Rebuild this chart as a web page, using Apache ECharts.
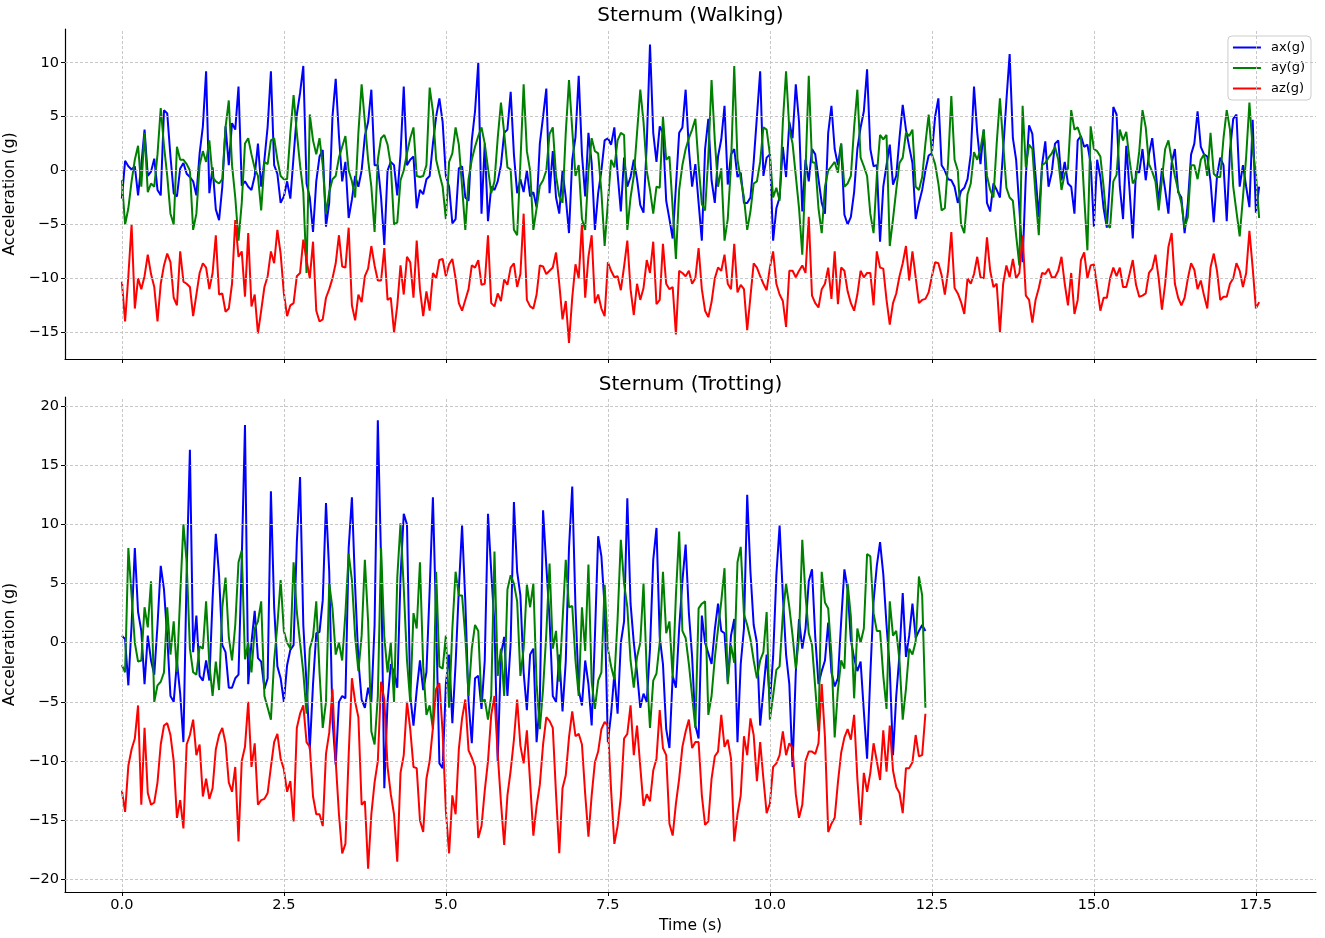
<!DOCTYPE html>
<html><head><meta charset="utf-8">
<script src="https://cdn.jsdelivr.net/npm/echarts@6/dist/echarts.min.js"></script>
<style>html,body{margin:0;padding:0;background:#fff}#c{width:1325px;height:938px}</style>
</head><body><div id="c"></div>
<script>
const dt = 0.05;
const seriesNames = ['ax(g)', 'ay(g)', 'az(g)'];
const colors = ['#0000ff', '#008000', '#ff0000'];
const xTicks = [0, 2.5, 5, 7.5, 10, 12.5, 15, 17.5];
const yTicksWalk = [-15, -10, -5, 0, 5, 10];
const yTicksTrot = [-20, -15, -10, -5, 0, 5, 10, 15, 20];

const walkAx = [
-2.6,0.9,0.4,0.1,0.4,-2.3,0.5,3.8,-0.5,-0.1,
1.1,-1.8,-2.3,5.6,5.3,1.3,-2.1,-2.4,0.2,0.7,
-0.3,-0.6,-1.0,-2.3,1.6,4.1,9.2,-2.1,0.3,-3.6,
-4.6,-1.5,4.1,0.5,4.4,3.8,7.8,-1.4,-1.0,-1.5,
-1.8,-0.5,2.5,-1.5,1.0,4.1,9.2,0.5,-0.3,-3.0,
-2.4,-1.0,-2.6,1.3,5.2,7.2,9.7,-1.2,-2.5,-5.7,
-1.0,1.3,1.9,-5.2,-3.0,5.0,8.5,3.2,-1.0,0.8,
-4.4,-2.7,-0.5,-1.5,0.0,3.2,4.5,7.5,0.5,0.5,
-2.5,-6.9,0.0,0.8,0.5,-2.3,1.5,7.8,0.5,1.0,
1.3,-3.5,-1.8,-2.2,-0.8,-0.5,2.5,5.0,6.7,4.5,
-0.5,-1.5,-4.9,-4.5,0.2,0.4,-2.5,-2.8,2.8,5.5,
10.0,-4.0,2.5,-4.7,-1.5,-1.8,-1.0,0.5,3.5,3.8,
7.3,1.5,-2.1,-0.8,-2.0,0.0,-2.4,-2.0,-3.4,2.5,
5.0,7.6,-2.1,1.8,-2.5,-4.0,0.0,-2.5,-5.8,1.0,
3.1,8.8,1.5,-2.4,3.5,0.7,-5.5,-2.1,0.0,2.8,
3.0,2.4,4.0,-0.3,-3.8,1.2,-1.5,-0.6,1.0,-0.8,
-3.2,-3.9,2.5,11.7,3.5,0.8,4.1,3.5,-2.8,-4.5,
-6.3,-1.5,3.5,4.0,7.5,2.0,-1.5,0.6,-3.0,-6.5,
2.0,4.8,-0.9,-3.0,1.3,2.9,6.0,-1.3,1.5,2.0,
-0.6,-0.2,-3.0,-3.0,-2.5,0.8,5.0,9.2,-0.5,1.2,
1.5,-6.5,-3.5,-2.5,2.2,-0.6,4.5,3.0,8.0,4.5,
-3.8,1.0,-1.0,2.0,1.5,-0.8,-3.0,-4.0,3.5,6.0,
2.0,0.5,2.5,-4.1,-5.0,-4.3,-2.0,2.0,4.0,5.5,
9.4,2.0,0.4,0.5,-6.6,-1.5,0.5,2.4,-1.3,-0.5,
3.0,6.1,3.8,2.2,0.7,-4.5,-3.0,-1.8,0.0,1.4,
1.6,5.0,6.7,0.5,0.0,-0.8,-0.9,-1.5,-3.0,-1.9,
-1.6,-0.8,1.5,7.8,3.5,0.6,3.8,-3.0,-3.8,-1.2,
-1.8,-2.5,1.9,6.5,10.8,3.0,1.0,-3.5,-8.5,-0.5,
4.2,3.4,-0.5,-4.3,0.5,2.7,-1.5,-0.2,2.5,2.8,
-0.9,0.8,-1.2,-1.5,-4.0,2.8,3.2,2.2,2.4,0.7,
-5.2,1.0,-0.6,-3.5,-5.3,-0.8,5.9,5.2,-1.5,-4.5,
2.3,-1.8,-6.3,0.0,-0.2,2.0,-0.9,1.5,3.0,0.2,
-3.0,0.2,-1.8,-4.0,0.7,2.0,-2.0,-2.5,-5.8,-3.0,
1.5,2.5,5.5,2.2,1.5,1.3,-1.0,-4.8,-0.5,1.2,
0.5,-4.7,1.8,4.8,5.2,-1.5,0.5,-1.5,-3.4,4.7,
-3.9,-1.5
];

const walkAy = [
-0.9,-5.0,-3.5,-1.0,1.0,2.3,-1.5,3.5,-2.0,-1.2,
-1.5,1.5,5.8,2.3,-0.5,-4.0,-5.0,2.2,1.0,1.0,
0.6,0.0,-5.5,-4.0,0.5,1.8,0.8,2.8,-0.6,-1.0,
-1.2,-0.8,4.0,6.5,0.5,-2.5,-6.5,-3.0,2.5,3.0,
1.5,0.2,-0.5,-3.7,0.8,0.6,2.8,3.0,1.0,-0.5,
-0.8,-0.8,3.5,7.0,3.5,0.5,-2.0,-9.5,5.2,2.8,
1.5,3.0,0.5,-4.0,-2.0,-0.8,-0.5,1.2,2.2,3.2,
0.0,-1.0,-2.5,3.5,8.0,4.5,1.0,-1.5,-5.7,1.0,
3.0,3.3,2.4,0.5,-5.0,-4.8,-0.9,0.0,1.6,3.0,
4.0,-0.5,-0.6,-0.5,0.5,7.7,5.5,1.0,-0.3,-1.5,
-4.5,0.8,1.6,4.0,2.4,-1.5,-5.5,-0.8,1.0,2.2,
3.2,4.0,2.5,0.2,-2.1,-1.0,3.0,6.3,3.5,0.3,
0.1,-5.5,-6.0,0.7,8.0,1.8,0.0,-5.5,-3.5,-1.4,
-0.9,0.0,3.4,4.0,-0.5,-2.4,-3.0,3.5,8.4,3.8,
-0.5,0.5,-4.5,-5.5,0.0,3.0,1.8,1.6,-2.0,-7.0,
-3.0,1.0,0.3,2.8,3.5,3.3,-5.5,-2.5,-0.5,3.5,
7.5,4.5,0.0,-1.8,-4.0,-1.5,-1.6,5.0,1.0,1.3,
-3.5,-8.2,-1.8,0.5,2.0,3.0,3.8,4.8,0.5,-3.1,
-3.7,1.3,8.4,2.8,-1.5,0.2,-6.5,-4.5,0.5,9.7,
1.0,-0.8,-2.5,-5.5,-3.8,-1.2,-1.0,0.8,4.0,3.8,
1.5,-2.5,-1.6,-2.8,4.5,9.2,3.8,2.5,-0.5,-3.5,
-7.8,0.0,8.8,0.8,0.7,-3.5,-5.8,-1.5,0.0,0.4,
0.8,-0.2,2.5,-1.5,-1.2,-0.5,4.0,7.5,1.2,0.4,
-0.5,-4.0,-5.8,-0.5,3.3,2.9,3.3,-7.0,-4.5,-1.8,
0.7,1.2,3.5,3.2,3.8,-1.5,-1.8,-0.6,2.5,5.2,
1.5,0.6,-1.2,-3.7,-3.5,0.7,6.9,1.0,0.0,-5.0,
-5.8,-2.2,-1.2,1.7,1.0,2.0,3.8,-0.5,-1.8,-2.5,
2.5,6.7,2.5,-1.6,-2.5,-2.8,-6.0,-8.8,6.0,0.3,
2.4,2.0,-2.3,-6.0,0.5,0.7,1.2,1.6,2.2,1.0,
-1.8,-0.3,0.2,5.6,3.8,4.0,3.1,-2.4,-7.4,4.1,
2.0,1.8,1.3,-1.5,-5.0,-5.3,-1.0,-0.4,3.8,2.8,
3.6,1.0,-1.2,-0.7,1.8,5.6,4.0,0.6,-0.1,-1.0,
-3.7,-0.8,2.0,2.8,1.0,-0.5,-1.8,-3.0,-5.3,-4.3,
0.5,0.5,-0.8,1.0,1.5,-0.5,3.5,-0.3,-0.6,-0.6,
3.0,5.6,3.8,-1.5,-3.8,-6.1,-2.5,1.3,6.3,2.0,
-0.3,-4.4
];

const walkAz = [
-10.3,-14.0,-9.8,-5.0,-12.8,-10.0,-11.0,-9.8,-7.8,-9.6,
-10.8,-14.0,-10.5,-8.8,-7.7,-8.5,-11.8,-12.5,-7.5,-10.3,
-10.5,-10.8,-13.5,-11.5,-9.5,-8.6,-9.0,-11.0,-9.5,-6.0,
-11.5,-11.4,-13.1,-12.8,-10.5,-4.6,-8.0,-7.5,-11.7,-5.8,
-12.6,-11.5,-15.1,-13.0,-10.8,-9.8,-7.5,-8.6,-5.5,-7.7,
-11.4,-13.5,-12.5,-12.3,-9.8,-9.5,-6.4,-8.3,-10.0,-6.6,
-13.0,-14.0,-13.8,-11.8,-11.0,-10.0,-8.6,-6.0,-8.9,-9.0,
-5.3,-12.5,-13.9,-11.5,-12.2,-9.8,-9.1,-7.0,-8.8,-10.2,
-10.2,-7.2,-12.0,-11.8,-15.0,-12.5,-8.8,-11.5,-8.0,-8.5,
-11.8,-6.5,-11.0,-13.5,-11.2,-13.0,-9.5,-10.0,-8.3,-8.2,
-9.8,-8.7,-8.2,-10.0,-12.3,-13.0,-12.0,-11.0,-8.8,-9.0,
-8.3,-10.6,-10.5,-6.0,-12.3,-12.6,-11.4,-12.1,-10.1,-10.6,
-9.0,-8.6,-10.8,-9.6,-4.0,-12.0,-12.6,-12.8,-11.5,-8.8,
-8.9,-9.6,-9.3,-9.0,-7.6,-10.5,-13.8,-12.1,-16.0,-11.8,
-8.7,-10.0,-4.9,-11.8,-8.0,-6.0,-12.3,-11.5,-12.8,-13.5,
-8.5,-9.3,-9.9,-9.8,-11.1,-8.9,-6.5,-11.0,-13.4,-10.5,
-12.0,-10.9,-8.3,-9.5,-6.6,-12.4,-12.0,-6.8,-10.5,-11.0,
-10.8,-15.2,-9.3,-9.5,-9.8,-9.3,-10.5,-10.0,-7.2,-11.0,
-13.0,-13.6,-12.2,-10.0,-9.0,-9.3,-7.8,-10.5,-11.0,-6.8,
-11.3,-10.6,-11.0,-14.8,-11.7,-8.6,-9.0,-9.8,-10.5,-11.1,
-9.0,-7.5,-10.5,-11.5,-12.1,-14.5,-9.3,-9.3,-9.9,-9.3,
-8.8,-9.5,-4.3,-11.6,-12.3,-12.7,-11.0,-10.5,-9.0,-11.9,
-7.5,-12.4,-9.0,-9.3,-11.2,-12.3,-13.0,-11.5,-9.3,-9.9,
-9.5,-9.5,-12.5,-7.5,-9.0,-9.1,-12.0,-14.3,-12.3,-11.4,
-9.8,-8.6,-7.0,-10.2,-7.5,-9.9,-12.3,-12.0,-11.9,-11.3,
-9.8,-8.5,-8.6,-9.7,-11.5,-9.3,-5.7,-10.9,-11.4,-12.2,
-13.3,-10.0,-10.5,-9.6,-8.0,-9.9,-10.0,-6.2,-9.3,-10.8,
-10.5,-15.0,-10.5,-8.8,-9.9,-8.2,-10.0,-9.5,-6.0,-11.6,
-12.0,-14.1,-12.0,-10.9,-9.5,-9.6,-9.1,-9.9,-9.9,-9.3,
-8.0,-10.5,-12.5,-9.5,-13.3,-12.0,-8.3,-7.6,-10.0,-8.8,
-8.7,-10.8,-13.0,-11.8,-11.8,-10.0,-9.0,-9.8,-9.0,-10.8,
-10.8,-9.6,-8.3,-10.6,-11.7,-11.6,-11.4,-9.5,-9.1,-7.8,
-10.0,-12.9,-10.5,-7.1,-5.8,-10.5,-11.8,-12.5,-11.8,-10.0,
-8.6,-9.2,-11.0,-10.2,-11.6,-12.8,-9.0,-7.7,-9.3,-12.0,
-11.7,-11.7,-10.5,-10.0,-8.6,-9.3,-10.8,-9.5,-5.6,-9.0,
-12.8,-12.2
];

const trotAx = [
0.6,0.3,-3.6,1.5,8.0,2.6,1.0,-3.5,0.6,-1.5,
-2.7,1.5,6.5,4.5,0.5,-4.5,-5.0,-1.6,-4.3,-8.4,
6.0,16.3,-0.8,2.3,-2.8,-3.2,-1.5,-3.2,3.7,9.2,
5.7,-0.2,-0.8,-3.8,-3.8,-3.0,-2.7,7.0,18.4,-3.5,
0.0,2.7,-1.3,-1.6,-3.9,-3.0,12.8,3.0,-2.0,-3.0,
-5.0,-1.9,-0.6,-0.2,8.5,14.0,1.5,-3.5,-9.0,-3.5,
0.8,0.9,3.6,11.8,6.0,-6.5,-10.3,-5.0,-4.5,-4.7,
8.0,12.3,4.7,-1.5,-4.8,-5.5,-3.8,-5.0,1.5,18.8,
7.0,-12.3,-5.0,-1.8,-2.5,-3.8,5.5,10.9,10.0,-4.5,
-7.0,-4.0,-1.5,-4.0,-2.5,4.5,12.3,1.8,-10.2,-10.6,
-3.5,-1.0,-6.8,-1.8,4.5,9.9,3.5,-5.0,-8.5,-3.0,
-2.8,-5.6,-1.5,10.9,6.0,1.5,-10.0,-1.0,0.5,-4.5,
0.0,11.9,6.0,4.0,-2.5,-5.7,-1.0,-0.5,-8.4,-5.0,
11.2,6.5,2.0,-4.5,-5.0,-1.0,-5.8,-1.6,8.0,13.2,
3.0,-4.0,-5.3,-1.5,-3.5,-7.0,0.5,9.0,7.3,3.0,
-8.4,-6.0,-2.6,-6.0,0.0,1.8,12.2,3.3,0.0,-2.5,
-5.5,-4.3,-5.0,-0.5,7.0,9.7,0.5,-1.8,-7.3,-8.9,
-2.8,-3.8,1.2,5.2,8.3,2.5,-1.2,-7.0,-8.1,2.3,
0.0,-0.9,-1.8,1.1,3.3,1.0,0.8,-3.3,0.6,2.0,
-8.4,-1.8,1.2,12.5,6.0,1.5,0.0,-7.0,-4.0,-1.0,
-5.0,-1.2,5.7,9.9,4.0,-1.0,-3.5,-10.5,-2.5,2.0,
-0.5,1.2,5.2,6.2,0.5,-3.5,-2.4,-1.5,1.7,-2.5,
-3.7,-3.0,1.8,6.2,4.5,0.2,-1.3,-2.4,-1.6,-5.8,
-9.8,-2.7,3.5,6.5,8.5,5.8,1.5,-2.2,-9.5,-4.5,
-1.0,4.2,-1.2,0.6,3.3,0.4,1.0,1.5,1.0
];

const trotAy = [
-1.9,-2.5,8.0,4.0,0.0,-1.6,-1.5,3.0,1.3,5.2,
-5.0,-3.6,-3.3,-2.5,3.0,-1.0,1.8,-2.5,4.0,10.0,
6.8,-0.5,-2.5,-2.7,-0.3,-0.5,3.5,-1.8,-4.5,-1.6,
-4.0,3.0,5.5,0.5,-1.5,1.5,6.8,7.8,-1.4,0.0,
-2.5,1.2,1.8,3.5,-4.5,-5.5,-6.5,-1.5,1.5,5.3,
1.0,0.0,-0.5,6.8,2.6,0.0,-2.5,-6.0,-0.5,0.5,
3.5,-2.5,-7.2,-5.0,5.0,2.9,-1.0,0.0,-1.5,2.5,
7.5,5.3,0.5,-2.4,0.6,7.0,1.8,-7.5,-8.6,-4.5,
8.0,0.5,-2.5,0.0,-5.0,5.5,10.1,4.6,-1.5,-5.0,
2.5,1.2,6.8,-2.0,-6.1,-5.3,-7.3,6.0,-2.0,-2.2,
0.6,-5.5,1.2,6.0,4.0,4.0,0.5,-4.5,-0.5,1.5,
1.0,-5.0,-4.8,-6.5,-4.5,7.7,-2.8,-0.5,-4.5,4.5,
5.7,5.0,3.5,-2.8,-0.5,4.9,3.0,5.0,-3.5,-7.3,
-3.9,0.8,6.7,-0.5,1.0,-3.3,1.8,7.0,3.0,3.1,
-1.5,-4.5,3.0,-0.7,6.6,-3.3,-5.6,-3.2,-2.5,4.9,
-0.5,-2.0,-3.1,2.0,8.7,5.0,3.0,-1.5,-3.8,-1.2,
0.0,5.0,-2.5,-7.2,-3.2,-2.6,0.0,6.0,0.8,1.8,
-3.0,4.0,9.4,1.0,0.4,-1.8,-4.5,-7.2,2.9,3.3,
3.5,-6.1,-4.5,-1.3,1.2,3.5,6.3,-3.5,-0.2,-1.7,
6.8,8.1,2.4,1.5,0.3,-1.5,-3.0,-1.5,-0.8,2.6,
-6.5,-4.5,-2.3,-2.0,2.4,5.0,3.0,0.6,-2.2,0.5,
8.7,4.0,0.8,-0.2,-3.8,-7.5,6.0,3.4,2.9,-1.0,
-8.0,-4.0,-1.5,-2.2,5.0,2.2,-4.7,1.2,0.0,1.2,
7.5,7.3,2.5,1.0,1.0,-2.8,-5.6,3.5,0.6,1.0,
-1.5,-6.5,-3.9,-0.5,-1.0,0.1,5.6,4.0,-5.5
];

const trotAz = [
-12.5,-14.3,-10.4,-9.0,-8.1,-5.3,-13.7,-7.2,-12.7,-13.7,
-13.5,-11.8,-8.6,-7.0,-6.8,-7.8,-10.0,-14.8,-13.3,-15.7,
-8.6,-7.8,-6.5,-9.5,-8.6,-13.0,-11.5,-13.2,-12.3,-9.0,
-7.8,-7.2,-8.5,-11.8,-12.6,-10.5,-16.8,-10.0,-8.8,-5.0,
-10.5,-8.5,-13.7,-13.3,-13.2,-12.7,-10.5,-8.4,-7.7,-9.8,
-10.7,-12.6,-11.7,-15.1,-7.2,-6.0,-5.3,-8.4,-8.8,-13.0,
-14.5,-14.5,-15.5,-9.4,-7.6,-3.9,-10.0,-14.5,-17.8,-17.0,
-9.5,-3.0,-5.0,-6.3,-13.7,-13.4,-19.1,-14.5,-11.8,-10.0,
-3.3,-4.8,-10.5,-12.8,-14.5,-18.5,-11.0,-9.5,-5.0,-7.3,
-10.5,-10.6,-15.0,-16.0,-11.5,-10.0,-7.2,-3.9,-3.4,-7.6,
-14.2,-17.8,-12.9,-14.5,-9.0,-6.4,-4.8,-9.1,-9.7,-10.5,
-16.5,-15.5,-12.5,-10.0,-6.1,-4.5,-9.4,-13.5,-17.1,-12.9,
-10.8,-8.2,-4.8,-8.7,-10.2,-7.4,-11.8,-16.3,-13.8,-12.0,
-8.6,-6.3,-6.6,-7.2,-12.8,-17.8,-12.3,-11.2,-8.0,-5.8,
-7.9,-7.7,-8.6,-12.8,-16.4,-12.9,-10.1,-9.2,-7.3,-6.7,
-7.0,-12.5,-17.0,-15.5,-13.0,-8.1,-7.7,-5.3,-9.5,-7.0,
-10.5,-13.8,-12.8,-13.4,-10.8,-9.8,-5.7,-8.9,-9.5,-15.3,
-16.3,-13.6,-11.5,-8.8,-7.5,-6.5,-8.9,-8.4,-8.4,-12.9,
-15.4,-15.1,-11.5,-9.6,-9.2,-6.1,-8.8,-8.2,-9.8,-16.8,
-14.5,-12.9,-7.9,-9.5,-6.4,-7.8,-11.7,-8.4,-11.5,-14.4,
-13.6,-10.5,-10.2,-9.5,-7.5,-9.5,-8.5,-8.9,-12.8,-14.8,
-13.7,-10.0,-9.2,-9.2,-9.4,-8.5,-3.5,-8.0,-16.0,-15.3,
-14.8,-11.8,-9.3,-8.0,-7.3,-8.2,-6.1,-11.5,-15.4,-11.0,
-12.6,-11.0,-8.5,-10.0,-11.6,-7.4,-10.9,-7.0,-10.8,-12.2,
-12.7,-14.4,-10.6,-10.6,-10.1,-7.8,-9.6,-9.5,-6.0
];

const FONT = 'DejaVu Sans';
const toPairs = arr => arr.map((v, i) => [Math.round(i * dt * 100) / 100, v]);
const minusFmt = v => (v < 0 ? '\u2212' : '') + Math.abs(v);
const xFmt = v => Number(v).toFixed(1);

const walkData = [walkAx, walkAy, walkAz];
const trotData = [trotAx, trotAy, trotAz];

function makeXAxis(gi, showLabels) {
  return {
    type: 'value', gridIndex: gi, min: -0.8775, max: 18.4275,
    axisLine: { show: true, onZero: false, lineStyle: { color: '#000', width: 1.2 } },
    axisTick: { show: true, inside: false, length: 4, customValues: xTicks, lineStyle: { color: '#000', width: 1 } },
    axisLabel: { show: showLabels, customValues: xTicks, formatter: xFmt, color: '#000', fontFamily: FONT, fontSize: 14.5, margin: 6 },
    splitLine: { show: false },
    name: showLabels ? 'Time (s)' : '', nameLocation: 'middle', nameGap: 24,
    nameTextStyle: { fontFamily: FONT, fontSize: 15.5, color: '#000' }
  };
}
function makeYAxis(gi, mn, mx, ticks) {
  return {
    type: 'value', gridIndex: gi, min: mn, max: mx,
    axisLine: { show: true, onZero: false, lineStyle: { color: '#000', width: 1.2 } },
    axisTick: { show: true, inside: false, length: 4, customValues: ticks, lineStyle: { color: '#000', width: 1 } },
    axisLabel: { show: true, customValues: ticks, formatter: minusFmt, color: '#000', fontFamily: FONT, fontSize: 14.5, margin: 6 },
    splitLine: { show: false },
    name: 'Acceleration (g)', nameLocation: 'middle', nameGap: 42,
    nameTextStyle: { fontFamily: FONT, fontSize: 15.5, color: '#000' }
  };
}
function gridSeries(gi, yt) {
  return {
    type: 'line', name: '_grid' + gi, xAxisIndex: gi, yAxisIndex: gi, z: 1, silent: true,
    data: [[0, 0]], showSymbol: false, symbol: 'none', lineStyle: { opacity: 0 },
    markLine: {
      silent: true, symbol: ['none', 'none'], animation: false, label: { show: false },
      emphasis: { disabled: true },
      lineStyle: { color: '#c2c2c2', width: 0.9, type: [3, 2] },
      data: yt.map(v => ({ yAxis: v })).concat(xTicks.map(v => ({ xAxis: v })))
    }
  };
}
function dataSeries(gi, arrs) {
  return arrs.map((arr, k) => ({
    type: 'line', name: seriesNames[k], xAxisIndex: gi, yAxisIndex: gi, z: 3,
    data: toPairs(arr), showSymbol: false, symbol: 'none', sampling: 'none',
    lineStyle: { color: colors[k], width: 2 }, itemStyle: { color: colors[k] },
    emphasis: { disabled: true }
  }));
}

const chart = echarts.init(document.getElementById('c'), null, { renderer: 'canvas' });
chart.setOption({
  animation: false,
  backgroundColor: '#ffffff',
  title: [
    { text: 'Sternum (Walking)', left: 690.5, top: 6, padding: 0, textAlign: 'center',
      textStyle: { fontFamily: FONT, fontSize: 20, fontWeight: 'normal', color: '#000' } },
    { text: 'Sternum (Trotting)', left: 690.5, top: 375, padding: 0, textAlign: 'center',
      textStyle: { fontFamily: FONT, fontSize: 20, fontWeight: 'normal', color: '#000' } }
  ],
  legend: {
    data: seriesNames.map(n => ({ name: n, icon: 'rect' })),
    orient: 'vertical', right: 14, top: 36, itemWidth: 28, itemHeight: 2, itemGap: 6.5,
    padding: [4.5, 6, 4.5, 5], borderColor: '#cccccc', borderWidth: 1, borderRadius: 4,
    backgroundColor: 'rgba(255,255,255,0.85)',
    textStyle: { fontFamily: FONT, fontSize: 13, color: '#000', lineHeight: 14, padding: [0, 0, 0, 5] },
    selectedMode: false
  },
  grid: [
    { left: 65, right: 9, top: 29, height: 330, containLabel: false, outerBoundsMode: 'none' },
    { left: 65, right: 9, top: 397, height: 495, containLabel: false, outerBoundsMode: 'none' }
  ],
  xAxis: [makeXAxis(0, false), makeXAxis(1, true)],
  yAxis: [makeYAxis(0, -17.48, 13.13, yTicksWalk), makeYAxis(1, -21.07, 20.77, yTicksTrot)],
  series: [gridSeries(0, yTicksWalk), gridSeries(1, yTicksTrot)]
    .concat(dataSeries(0, walkData)).concat(dataSeries(1, trotData))
});
</script>
</body></html>
